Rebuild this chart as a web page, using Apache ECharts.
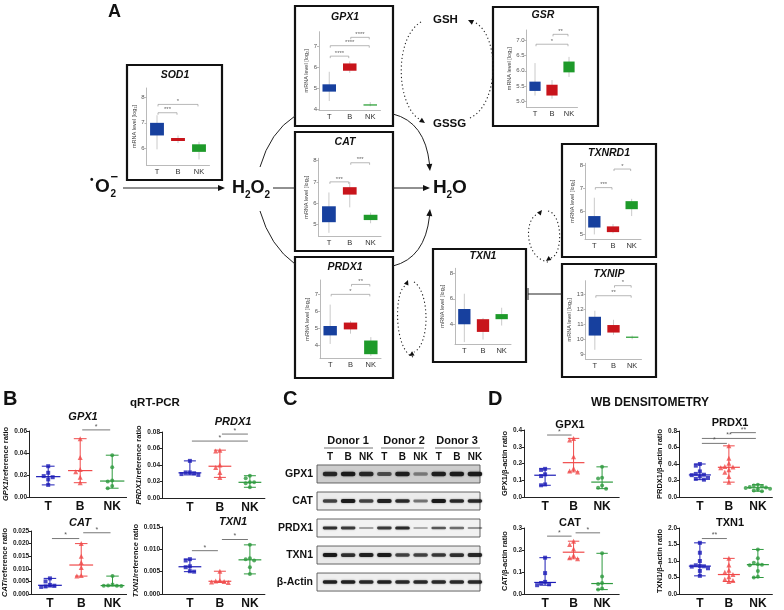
<!DOCTYPE html>
<html><head><meta charset="utf-8">
<script src="https://cdn.jsdelivr.net/npm/echarts@6/dist/echarts.min.js"></script>
<style>html,body{margin:0;padding:0;background:#fff}#c{width:784px;height:610px}</style>
</head><body><div id="c"></div>
<script>
const FONT = 'Liberation Sans, Arial, sans-serif';
const CATS = ['T','B','NK'];

// ---------- Panel A : mRNA box plots [min, q1, median, q3, max] for T, B, NK ----------
const sod1Box   = [[5.95,6.5,6.75,7.0,7.3],[6.2,6.28,6.33,6.4,6.5],[5.55,5.85,6.0,6.15,6.25]];
const gpx1Box   = [[4.4,4.85,5.0,5.2,5.8],[5.75,5.85,6.0,6.2,6.3],[4.15,4.2,4.22,4.24,4.35]];
const catBox    = [[4.6,5.1,5.5,5.85,6.5],[5.8,6.4,6.55,6.75,7.0],[5.05,5.2,5.3,5.45,5.55]];
const prdx1Box  = [[4.1,4.6,4.9,5.15,6.4],[4.7,4.95,5.1,5.35,5.45],[3.4,3.5,3.8,4.3,4.5]];
const gsrBox    = [[5.2,5.35,5.45,5.65,6.25],[5.1,5.2,5.35,5.55,5.7],[5.8,5.95,6.15,6.3,6.45]];
const txnrd1Box = [[5.0,5.3,5.5,5.8,6.6],[5.05,5.1,5.17,5.35,5.45],[5.8,6.1,6.25,6.45,6.55]];
const txnipBox  = [[9.3,10.25,10.8,11.5,11.9],[10.3,10.45,10.7,10.95,11.3],[10.0,10.12,10.15,10.18,10.25]];
const txn1Box   = [[2.6,4.0,4.6,5.2,6.4],[2.8,3.4,3.9,4.4,4.5],[3.9,4.4,4.6,4.8,5.3]];
// significance brackets [from, to, y] and star labels
const sod1Sig = [[0,1,7.4],[0,2,7.73]];            const sod1Stars = ['***','*'];
const gpx1Sig = [[0,1,6.55],[0,2,7.05],[1,2,7.45]]; const gpx1Stars = ['****','****','****'];
const catSig = [[0,1,7.0],[1,2,7.9]];               const catStars = ['***','***'];
const prdx1Sig = [[0,2,7.0],[1,2,7.58]];            const prdx1Stars = ['*','**'];
const gsrSig = [[0,2,6.86],[1,2,7.18]];             const gsrStars = ['*','**'];
const txnrd1Sig = [[0,1,7.04],[1,2,7.85]];          const txnrd1Stars = ['***','*'];
const txnipSig = [[0,2,12.9],[1,2,13.57]];          const txnipStars = ['**','*'];
// tick labels
const sod1Ticks=[6,7,8], gpx1Ticks=[4,5,6,7], catTicks=[5,6,7,8], prdx1Ticks=[4,5,6,7];
const gsrTicks=[5,5.5,6,6.5,7], txnrd1Ticks=[5,6,7,8], txnipTicks=[9,10,11,12,13], txn1Ticks=[4,6,8];

// ---------- Panel B : qRT-PCR ratios (T, B, NK) ----------
const qGpx1  = [[0.028,0.022,0.019,0.018,0.016,0.011],[0.053,0.036,0.025,0.023,0.018,0.013],[0.038,0.027,0.015,0.014,0.010,0.008]];
const qPrdx1 = [[0.045,0.031,0.031,0.030,0.029,0.028],[0.058,0.057,0.040,0.037,0.031,0.025],[0.027,0.024,0.019,0.019,0.018,0.013]];
const qCat   = [[0.0062,0.0050,0.0036,0.0033,0.0030,0.0028],[0.020,0.015,0.0125,0.0105,0.0073,0.0071],[0.0071,0.0038,0.0034,0.0033,0.0033,0.0032]];
const qTxn1  = [[0.0078,0.0075,0.0062,0.0060,0.0051,0.0050],[0.0051,0.0030,0.0029,0.0028,0.0027,0.0026],[0.011,0.0080,0.0078,0.0075,0.006,0.0045]];
const qGpx1Sig=[[1,2,0.061]], qGpx1Stars=['*'];
const qPrdx1Sig=[[1,2,0.0775],[0,2,0.069]], qPrdx1Stars=['*','*'];
const qCatSig=[[0,1,0.022],[1,2,0.0243]], qCatStars=['*','*'];
const qTxn1Sig=[[0,1,0.0097],[1,2,0.0122]], qTxn1Stars=['*','*'];

// ---------- Panel D : WB densitometry (T, B, NK) ----------
const wGpx1  = [[0.168,0.162,0.135,0.125,0.075,0.070],[0.35,0.34,0.24,0.17,0.155,0.150],[0.18,0.115,0.11,0.068,0.055,0.05]];
const wPrdx1 = [[0.40,0.38,0.31,0.28,0.27,0.265,0.25,0.23,0.22,0.21],[0.62,0.47,0.41,0.37,0.365,0.355,0.33,0.30,0.25,0.18],[0.15,0.14,0.13,0.12,0.115,0.11,0.10,0.09,0.08,0.07]];
const wCat   = [[0.165,0.095,0.055,0.050,0.044,0.040],[0.24,0.225,0.205,0.175,0.165,0.16],[0.185,0.08,0.05,0.045,0.025,0.02]];
const wTxn1  = [[1.55,1.25,1.0,0.87,0.85,0.84,0.83,0.78,0.70,0.55],[1.08,0.88,0.72,0.66,0.59,0.52,0.45,0.41,0.38],[1.35,1.08,0.95,0.90,0.89,0.87,0.70,0.52,0.50]];
const wGpx1Sig=[[0,1,0.37]], wGpx1Stars=['*'];
const wPrdx1Sig=[[1,2,0.78],[0,2,0.71],[0,1,0.65]], wPrdx1Stars=['**','**','*'];
const wCatSig=[[0,1,0.263],[1,2,0.278]], wCatStars=['*','*'];
const wTxn1Sig=[[0,1,1.68]], wTxn1Stars=['**'];

// ---------- Panel C : western blot band intensities (9 lanes) ----------
const blotProteins = ['GPX1','CAT','PRDX1','TXN1','β-Actin'];
const blotLanes = ['T','B','NK','T','B','NK','T','B','NK'];
const donors = ['Donor 1','Donor 2','Donor 3'];
const bandGpx1  = [0.85,0.95,0.85,0.6,0.9,0.35,0.9,0.95,0.95];
const bandCat   = [0.7,0.95,0.7,0.9,0.85,0.45,0.95,0.85,0.85];
const bandPrdx1 = [0.8,0.75,0.25,0.75,0.85,0.2,0.6,0.5,0.3];
const bandTxn1  = [0.95,0.8,0.9,0.95,0.7,0.7,0.75,0.8,0.85];
const bandActin = [0.9,0.9,0.85,0.9,0.85,0.85,0.85,0.85,0.85];

// ================= styling =================
const BOX_COLORS = ['#17409e','#c8141b','#1e9a2a'];
const DOT_COLORS = ['#1c1cb6','#f04a4a','#2e9a3e'];
const DOT_SYMS = ['rect','triangle','circle'];
const DOT_SIZES = [4,5,4];

const grids=[], xAxes=[], yAxes=[], series=[], elements=[];

function txt(x,y,text,font,opts){
  opts=opts||{};
  elements.push({type:'text', x:x, y:y, silent:true, z:100,
    style:{text:text, font:font, fill:opts.fill||'#111', align:opts.align||'left', verticalAlign:opts.va||'middle', rich:opts.rich}});
}

function bracketSeries(gi, data, stars, o){
  return {type:'custom', xAxisIndex:gi, yAxisIndex:gi, clip:false, silent:true, z:5,
    data:data,
    renderItem:function(params, api){
      const a=api.coord([api.value(0), api.value(2)]), b=api.coord([api.value(1), api.value(2)]);
      const t=o.tick;
      const sx=o.inset||0;
      return {type:'group', children:[
        {type:'polyline', shape:{points:[[a[0]+sx,a[1]+t],[a[0]+sx,a[1]],[b[0]-sx,b[1]],[b[0]-sx,b[1]+t]]},
          style:{stroke:o.color, lineWidth:o.lw, fill:null}},
        {type:'text', x:(a[0]+b[0])/2, y:a[1]+o.dy,
          style:{text:stars[params.dataIndex], fill:o.textColor, font:o.font, align:'center', verticalAlign:'middle'}}
      ]};
    }};
}

function boxPlot(c){
  const gi=grids.length;
  grids.push({left:c.left, top:c.top, width:c.width, height:c.height});
  xAxes.push({gridIndex:gi, type:'category', data:CATS, boundaryGap:true,
    axisLine:{onZero:false, lineStyle:{color:'#a8a8a8', width:0.8}}, axisTick:{show:false},
    axisLabel:{color:'#333', fontSize:7.5, margin:3, fontFamily:FONT}});
  yAxes.push({gridIndex:gi, type:'value', min:c.min, max:c.max, splitLine:{show:false},
    axisLine:{show:true, onZero:false, lineStyle:{color:'#a8a8a8', width:0.8}},
    axisTick:{show:true, length:2, customValues:c.ticks, lineStyle:{color:'#a8a8a8', width:0.8}},
    axisLabel:{customValues:c.ticks, fontSize:6, color:'#555', margin:2, fontFamily:FONT,
      formatter:function(v){return c.dec? v.toFixed(c.dec): String(v);}},
    name:'mRNA level [log₂]', nameLocation:'middle', nameGap:c.nameGap||8,
    nameTextStyle:{fontSize:5.5, color:'#444', fontFamily:FONT}});
  series.push({type:'custom', xAxisIndex:gi, yAxisIndex:gi, silent:true, z:3,
    data:c.boxes.map(function(b,i){return [i].concat(b);}),
    renderItem:function(params, api){
      const i=api.value(0);
      const lo=api.coord([i,api.value(1)]), q1=api.coord([i,api.value(2)]),
            q3=api.coord([i,api.value(4)]), hi=api.coord([i,api.value(5)]);
      const bw=api.size([1,0])[0]*0.66;
      return {type:'group', children:[
        {type:'line', shape:{x1:lo[0],y1:lo[1],x2:hi[0],y2:hi[1]}, style:{stroke:'#bdbdbd', lineWidth:0.8}},
        {type:'rect', shape:{x:q3[0]-bw/2, y:q3[1], width:bw, height:Math.max(q1[1]-q3[1],1.2)}, style:{fill:BOX_COLORS[i]}}
      ]};
    }});
  if(c.sig) series.push(bracketSeries(gi, c.sig, c.stars,
     {tick:2, color:'#9a9a9a', lw:0.7, textColor:'#666', font:'6px '+FONT, dy:-3, inset:1}));
  txt(c.tx, c.ty, c.title, 'italic bold 10.5px '+FONT, {align:'center'});
}

function median(a){const s=a.slice().sort(function(x,y){return x-y;}); const n=s.length; return n%2? s[(n-1)/2] : (s[n/2-1]+s[n/2])/2;}
function jitter(vals, g, range){
  const thr=range*0.07, placed=[];
  const cands=[0,-0.14,0.14,-0.28,0.28,-0.42,0.42];
  return vals.map(function(v){
    const near=placed.filter(function(p){return Math.abs(p.v-v)<thr;}).map(function(p){return p.o;});
    let o=0;
    for(const cc of cands){ if(!near.some(function(n){return Math.abs(n-cc)<0.01;})){o=cc;break;} }
    placed.push({v:v,o:o});
    return [g+o, v];
  });
}

function dotPlot(c){
  const gi=grids.length;
  grids.push({left:c.axisX, top:c.top, width:(c.xmax-c.xmin)*c.unit, height:c.bottom-c.top});
  xAxes.push({gridIndex:gi, type:'value', min:c.xmin, max:c.xmax, splitLine:{show:false},
    axisLine:{show:true, onZero:false, lineStyle:{color:'#222', width:1}}, axisTick:{show:false},
    axisLabel:{customValues:[0,1,2], formatter:function(v){return CATS[Math.round(v)];},
      fontSize:12, fontWeight:'bold', color:'#111', margin:4, fontFamily:FONT}});
  yAxes.push({gridIndex:gi, type:'value', min:c.ymin, max:c.ymax, splitLine:{show:false},
    axisLine:{show:true, onZero:false, lineStyle:{color:'#222', width:1}},
    axisTick:{show:true, length:2.5, customValues:c.ticks, lineStyle:{color:'#222'}},
    axisLabel:{customValues:c.ticks, formatter:function(v){return v.toFixed(c.dec);},
      fontSize:6.5, fontWeight:'bold', color:'#222', margin:2, fontFamily:FONT},
    name:c.yname, nameLocation:'middle', nameGap:c.nameGap,
    nameTextStyle:{fontSize:7.5, fontWeight:'bold', color:'#111', fontFamily:FONT,
      rich:{i:{fontSize:7.5, fontWeight:'bold', fontStyle:'italic', color:'#111', fontFamily:FONT}}}});
  const range=c.ymax-c.ymin;
  c.groups.forEach(function(vals,g){
    series.push({type:'scatter', xAxisIndex:gi, yAxisIndex:gi, silent:true, z:4,
      symbol:DOT_SYMS[g], symbolSize:DOT_SIZES[g], itemStyle:{color:DOT_COLORS[g]},
      data:jitter(vals,g,range)});
  });
  series.push({type:'custom', xAxisIndex:gi, yAxisIndex:gi, silent:true, z:3, clip:false,
    data:c.groups.map(function(vals,g){return [g, Math.min.apply(null,vals), median(vals), Math.max.apply(null,vals)];}),
    renderItem:function(params, api){
      const g=api.value(0);
      const lo=api.coord([g,api.value(1)]), md=api.coord([g,api.value(2)]), hi=api.coord([g,api.value(3)]);
      const u=api.size([1,0])[0], cap=u*0.2, mw=u*0.38, col=DOT_COLORS[g];
      const st={stroke:col, lineWidth:1};
      return {type:'group', children:[
        {type:'line', shape:{x1:lo[0],y1:lo[1],x2:hi[0],y2:hi[1]}, style:st},
        {type:'line', shape:{x1:lo[0]-cap,y1:lo[1],x2:lo[0]+cap,y2:lo[1]}, style:st},
        {type:'line', shape:{x1:hi[0]-cap,y1:hi[1],x2:hi[0]+cap,y2:hi[1]}, style:st},
        {type:'line', shape:{x1:md[0]-mw,y1:md[1],x2:md[0]+mw,y2:md[1]}, style:{stroke:col, lineWidth:1.2}}
      ]};
    }});
  series.push(bracketSeries(gi, c.sig, c.stars,
     {tick:0, color:'#777', lw:1, textColor:'#555', font:'7px '+FONT, dy:-3, inset:2}));
  txt(c.tx, c.ty, c.title, (c.italic?'italic ':'')+'bold 11px '+FONT, {align:'center'});
}

// ================= Panel A plots =================
boxPlot({title:'SOD1', tx:175, ty:75, left:146.5, top:88, width:63, height:77, min:5.33, max:8.38, ticks:sod1Ticks, boxes:sod1Box, sig:sod1Sig, stars:sod1Stars});
boxPlot({title:'GPX1', tx:345, ty:17, left:319, top:31.7, width:61.5, height:78.3, min:3.97, max:7.72, ticks:gpx1Ticks, boxes:gpx1Box, sig:gpx1Sig, stars:gpx1Stars});
boxPlot({title:'CAT', tx:345, ty:142, left:318.5, top:158.3, width:62.5, height:77.7, min:4.45, max:8.11, ticks:catTicks, boxes:catBox, sig:catSig, stars:catStars});
boxPlot({title:'PRDX1', tx:345, ty:267, left:320, top:280, width:61, height:78.3, min:3.26, max:7.84, ticks:prdx1Ticks, boxes:prdx1Box, sig:prdx1Sig, stars:prdx1Stars});
boxPlot({title:'GSR', tx:543, ty:15, left:526.5, top:30, width:51, height:77.3, min:4.82, max:7.32, ticks:gsrTicks, dec:1, nameGap:12, boxes:gsrBox, sig:gsrSig, stars:gsrStars});
boxPlot({title:'TXNRD1', tx:609, ty:153, left:585, top:163.3, width:56, height:75.7, min:4.8, max:8.1, ticks:txnrd1Ticks, boxes:txnrd1Box, sig:txnrd1Sig, stars:txnrd1Stars});
boxPlot({title:'TXNIP', tx:609, ty:274, left:585.5, top:280.7, width:56, height:78.3, min:8.69, max:13.9, ticks:txnipTicks, nameGap:10, boxes:txnipBox, sig:txnipSig, stars:txnipStars});
boxPlot({title:'TXN1', tx:483, ty:256, left:455, top:268.3, width:56, height:75.7, min:2.45, max:8.4, ticks:txn1Ticks, boxes:txn1Box});

// ================= Panel B & D plots =================
dotPlot({title:'GPX1', italic:true, tx:83, ty:417, axisX:29, unit:32, xmin:-0.6, xmax:2.45, top:431, bottom:497, ymin:0, ymax:0.06, ticks:[0,0.02,0.04,0.06], dec:2, yname:'{i|GPX1}/reference ratio', nameGap:19, groups:qGpx1, sig:qGpx1Sig, stars:qGpx1Stars});
dotPlot({title:'PRDX1', italic:true, tx:233, ty:422, axisX:162, unit:30, xmin:-0.93, xmax:2.5, top:432, bottom:498, ymin:0, ymax:0.08, ticks:[0,0.02,0.04,0.06,0.08], dec:2, yname:'{i|PRDX1}/reference ratio', nameGap:19, groups:qPrdx1, sig:qPrdx1Sig, stars:qPrdx1Stars});
dotPlot({title:'CAT', italic:true, tx:80, ty:523, axisX:29, unit:32, xmin:-0.6, xmax:2.45, top:531, bottom:595, ymin:0, ymax:0.025, ticks:[0,0.005,0.01,0.015,0.02,0.025], dec:3, yname:'{i|CAT}/reference ratio', nameGap:19, groups:qCat, sig:qCatSig, stars:qCatStars});
dotPlot({title:'TXN1', italic:true, tx:233, ty:522, axisX:162, unit:30, xmin:-0.93, xmax:2.5, top:527, bottom:595, ymin:0, ymax:0.015, ticks:[0,0.005,0.01,0.015], dec:3, yname:'{i|TXN1}/reference ratio', nameGap:19, groups:qTxn1, sig:qTxn1Sig, stars:qTxn1Stars});

dotPlot({title:'GPX1', tx:570, ty:425, axisX:524, unit:28.5, xmin:-0.74, xmax:2.6, top:430, bottom:497, ymin:0, ymax:0.4, ticks:[0,0.1,0.2,0.3,0.4], dec:1, yname:'GPX1/β-actin ratio', nameGap:13, groups:wGpx1, sig:wGpx1Sig, stars:wGpx1Stars});
dotPlot({title:'PRDX1', tx:730, ty:423, axisX:679, unit:29, xmin:-0.72, xmax:2.5, top:431, bottom:497, ymin:0, ymax:0.8, ticks:[0,0.2,0.4,0.6,0.8], dec:1, yname:'PRDX1/β-actin ratio', nameGap:13, groups:wPrdx1, sig:wPrdx1Sig, stars:wPrdx1Stars});
dotPlot({title:'CAT', tx:570, ty:523, axisX:524, unit:28.5, xmin:-0.74, xmax:2.6, top:528, bottom:595, ymin:0, ymax:0.3, ticks:[0,0.1,0.2,0.3], dec:1, yname:'CAT/β-actin ratio', nameGap:13, groups:wCat, sig:wCatSig, stars:wCatStars});
dotPlot({title:'TXN1', tx:730, ty:523, axisX:679, unit:29, xmin:-0.72, xmax:2.5, top:528, bottom:595, ymin:0, ymax:2.0, ticks:[0,0.5,1,1.5,2], dec:1, yname:'TXN1/β-actin ratio', nameGap:13, groups:wTxn1, sig:wTxn1Sig, stars:wTxn1Stars});

// ================= Panel C western blot =================
(function(){
  const gi=grids.length;
  grids.push({left:317, top:463, width:163, height:132});
  xAxes.push({gridIndex:gi, type:'value', position:'top', min:-0.72, max:8.28, splitLine:{show:false},
    axisLine:{show:false}, axisTick:{show:false},
    axisLabel:{customValues:[0,1,2,3,4,5,6,7,8], formatter:function(v){return blotLanes[Math.round(v)];},
      fontSize:10, fontWeight:'bold', color:'#111', margin:1, fontFamily:FONT}});
  yAxes.push({gridIndex:gi, type:'value', inverse:true, min:-0.407, max:4.48, splitLine:{show:false},
    axisLine:{show:false}, axisTick:{show:false},
    axisLabel:{customValues:[0,1,2,3,4], formatter:function(v){return blotProteins[Math.round(v)];},
      fontSize:10.5, fontWeight:'bold', color:'#111', margin:4, fontFamily:FONT}});
  const shades=['#cdcdcd','#ececec','#f2f2f2','#e9e9e9','#efefef'];
  series.push({type:'custom', xAxisIndex:gi, yAxisIndex:gi, silent:true, z:2, clip:false,
    data:blotProteins.map(function(p,r){return [r];}),
    renderItem:function(params, api){
      const r=api.value(0);
      const a=api.coord([-0.72, r]), b=api.coord([8.28, r]);
      return {type:'rect', shape:{x:a[0], y:a[1]-9, width:b[0]-a[0], height:18},
        style:{fill:shades[r], stroke:'#555', lineWidth:0.9}};
    }});
  const bandRows=[bandGpx1,bandCat,bandPrdx1,bandTxn1,bandActin];
  const base=[4.4,3.6,3.0,3.8,3.3];
  const bandData=[];
  bandRows.forEach(function(row,r){ row.forEach(function(v,l){ bandData.push([l,r,v]); }); });
  series.push({type:'custom', xAxisIndex:gi, yAxisIndex:gi, silent:true, z:3, clip:false,
    data:bandData,
    renderItem:function(params, api){
      const l=api.value(0), r=api.value(1), v=api.value(2);
      const p=api.coord([l,r]);
      const h=base[r]*(0.55+0.55*v);
      return {type:'rect', shape:{x:p[0]-7.3, y:p[1]-h/2, width:14.6, height:h, r:h/2},
        style:{fill:'rgba(18,18,18,'+(0.12+0.85*v).toFixed(2)+')', shadowBlur:2, shadowColor:'rgba(18,18,18,'+(0.6*v).toFixed(2)+')'}};
    }});
})();

// donors headings
const donorX=[348,404,457], donorLines=[[324,373],[381,424],[435,480]];
donors.forEach(function(d,i){
  txt(donorX[i], 441, d, 'bold 11px '+FONT, {align:'center'});
  elements.push({type:'line', silent:true, shape:{x1:donorLines[i][0], y1:448, x2:donorLines[i][1], y2:448}, style:{stroke:'#777', lineWidth:1.2}});
});

// ================= Panel letters & headers =================
txt(108, 12, 'A', 'bold 18px '+FONT);
txt(3, 399, 'B', 'bold 20px '+FONT);
txt(283, 399, 'C', 'bold 20px '+FONT);
txt(488, 399, 'D', 'bold 20px '+FONT);
txt(155, 403, 'qRT-PCR', 'bold 11.5px '+FONT, {align:'center'});
txt(650, 403, 'WB DENSITOMETRY', 'bold 12px '+FONT, {align:'center'});

// ================= Panel A pathway graphics =================
[[127,65,95,115],[295,6,98,120],[295,132,98,119],[295,257,98,121],[493,7,105,119],[562,144,94,113],[562,264,94,113],[433,249,93,113]]
 .forEach(function(b){ elements.push({type:'rect', silent:true, shape:{x:b[0],y:b[1],width:b[2],height:b[3]}, style:{fill:'none', stroke:'#111', lineWidth:2.2}}); });

function arrowHead(tx,ty,ang,len,w){
  len=len||7; w=w||3;
  const c=Math.cos(ang), s=Math.sin(ang), bx=tx-len*c, by=ty-len*s;
  elements.push({type:'polygon', silent:true, shape:{points:[[tx,ty],[bx-w*s,by+w*c],[bx+w*s,by-w*c]]}, style:{fill:'#111'}});
}
function line(x1,y1,x2,y2,dash){
  elements.push({type:'line', silent:true, shape:{x1:x1,y1:y1,x2:x2,y2:y2}, style:{stroke:'#222', lineWidth:1, lineDash:dash||null}});
}
function curve(sh, dash){
  elements.push({type:'bezierCurve', silent:true, shape:sh, style:{stroke:'#222', lineWidth:dash?1.1:1, fill:null, lineDash:dash||null}});
}
// superoxide
txt(90, 180, '•', 'bold 10px '+FONT);
txt(95, 187, 'O', 'bold 19px '+FONT);
txt(110.5, 194, '2', 'bold 10px '+FONT);
txt(110.5, 177, '−', 'bold 13px '+FONT);
// H2O2
txt(232, 188, 'H', 'bold 18px '+FONT);
txt(245, 195, '2', 'bold 10px '+FONT);
txt(250.5, 188, 'O', 'bold 18px '+FONT);
txt(264.5, 195, '2', 'bold 10px '+FONT);
// H2O
txt(433, 188, 'H', 'bold 19px '+FONT);
txt(446.5, 195, '2', 'bold 10px '+FONT);
txt(452, 188, 'O', 'bold 19px '+FONT);
// GSH / GSSG
txt(433, 20, 'GSH', 'bold 11.5px '+FONT);
txt(433, 124, 'GSSG', 'bold 11.5px '+FONT);

// arrows
line(123,188,219,188); arrowHead(225,188,0);
line(273,188,295,188);
line(393,188,424,188); arrowHead(430,188,0);
curve({x1:260,y1:167,cpx1:270,cpy1:132,x2:295,y2:116});
curve({x1:260,y1:211,cpx1:270,cpy1:246,x2:295,y2:264});
curve({x1:393,y1:114,cpx1:425,cpy1:122,x2:429.5,y2:164}); arrowHead(430,171,Math.atan2(50,5));
curve({x1:393,y1:266,cpx1:425,cpy1:258,x2:429.5,y2:216}); arrowHead(430,209,Math.atan2(-50,5));
// GSH <-> GSSG dotted loop
const DOT=[1.2,2.6];
curve({x1:421,y1:22,cpx1:394,cpy1:38,cpx2:396,cpy2:104,x2:419,y2:119}, DOT); arrowHead(425,123,0.6,5.5,2.6);
curve({x1:470,y1:118,cpx1:500,cpy1:104,cpx2:500,cpy2:34,x2:474,y2:22}, DOT); arrowHead(468,20,-2.7,5.5,2.6);
// TXN1 <-> TXNRD1 dotted loop
curve({x1:548,y1:262,cpx1:524,cpy1:258,cpx2:524,cpy2:218,x2:538,y2:214}, DOT); arrowHead(542,210,-0.9,5,2.4);
curve({x1:548,y1:211,cpx1:563,cpy1:214,cpx2:563,cpy2:255,x2:551,y2:258}, DOT); arrowHead(546,261,2.5,5,2.4);
// PRDX1 <-> TXN1 dotted loop
curve({x1:413,y1:357,cpx1:394,cpy1:350,cpx2:394,cpy2:292,x2:405,y2:286}, DOT); arrowHead(408,280,-1.2,5,2.4);
curve({x1:414,y1:282,cpx1:430,cpy1:292,cpx2:430,cpy2:345,x2:414,y2:352}, DOT); arrowHead(409,356,2.6,5,2.4);
// TXNIP -| TXN1
line(528,294,562,294); line(528,288,528,300);

const chart=echarts.init(document.getElementById('c'), null, {renderer:'canvas', width:784, height:610});
chart.setOption({
  animation:false, backgroundColor:'#ffffff', textStyle:{fontFamily:FONT},
  grid:grids, xAxis:xAxes, yAxis:yAxes, series:series,
  graphic:{elements:elements}
});
</script>
</body></html>
